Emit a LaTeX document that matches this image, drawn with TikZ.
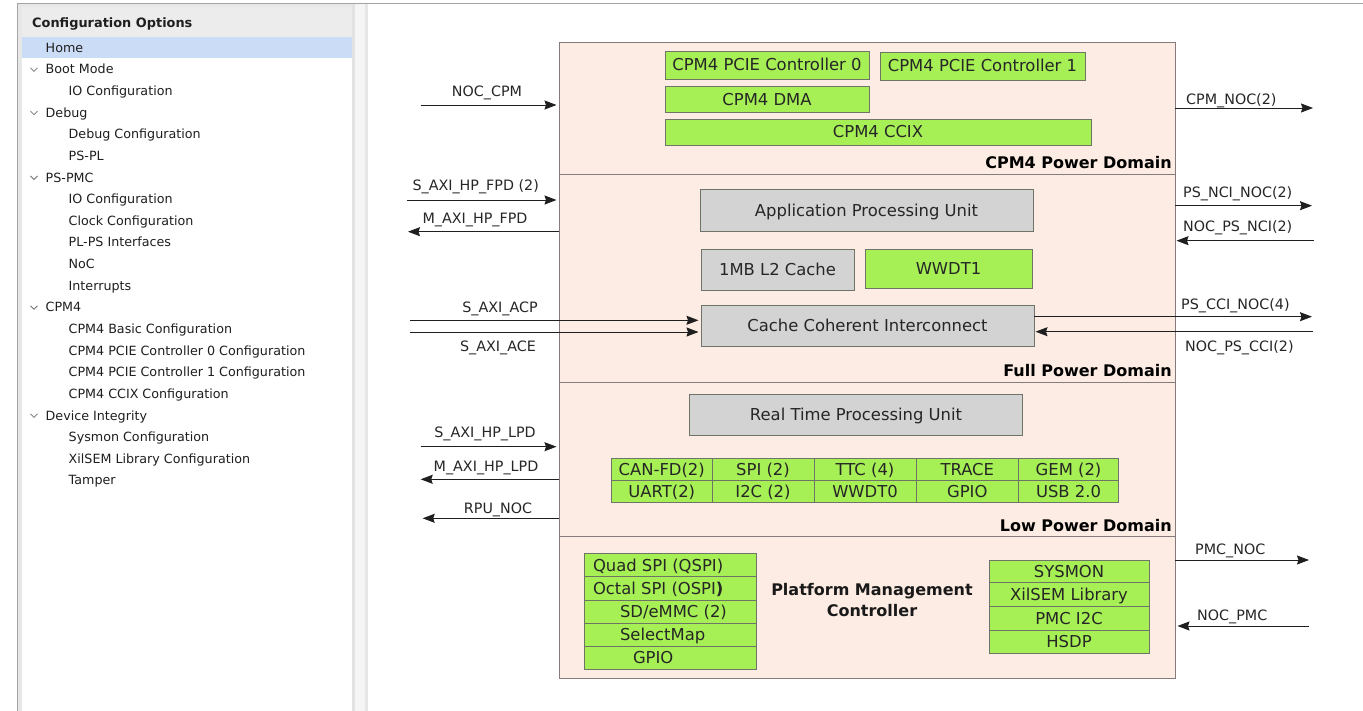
\documentclass[tikz,border=0pt]{standalone}
\usepackage{fontspec}
\setmainfont{DejaVu Sans}
\usetikzlibrary{arrows.meta}

\definecolor{domfill}{HTML}{FDECE3}
\definecolor{domline}{HTML}{857B7B}
\definecolor{ipgreen}{HTML}{A6EF55}
\definecolor{ipgray}{HTML}{D3D3D3}
\definecolor{ipline}{HTML}{6E7468}
\definecolor{ink}{HTML}{262626}
\definecolor{selblue}{HTML}{CBDCF7}
\definecolor{panelmargin}{HTML}{E7E7E7}
\definecolor{panelhead}{HTML}{ECECEC}
\definecolor{splitA}{HTML}{E2E2E2}
\definecolor{splitB}{HTML}{F5F5F5}
\definecolor{splitC}{HTML}{E6E6E6}
\definecolor{frameline}{HTML}{A4A4A4}

\begin{document}
\begin{tikzpicture}[x=1pt,y=-1pt,
  dom/.style={draw=domline, fill=domfill, line width=1pt, anchor=north west,
    inner sep=0pt, outer sep=0pt},
  ipbox/.style={draw=ipline, line width=0.9pt, anchor=north west, inner sep=0pt,
    outer sep=0pt, text=ink, font=\fontsize{16.4}{18}\selectfont,
    text height=12pt, text depth=0pt},
  gbox/.style={ipbox, fill=ipgreen},
  graybox/.style={ipbox, fill=ipgray},
  domlbl/.style={anchor=east, inner sep=0pt, font=\bfseries\fontsize{16}{18}\selectfont,
    text height=11.7pt, text depth=0pt},
  sig/.style={inner sep=0pt, text=ink, font=\fontsize{14.3}{16}\selectfont,
    text height=10.4pt, text depth=0pt},
  arr/.style={draw=black!88, line width=0.9pt,
    -{Stealth[length=12pt,width=9pt,inset=1.5pt]}},
  tree/.style={anchor=west, inner sep=0pt, text=black!88,
    font=\fontsize{12.7}{14}\selectfont, text height=9.2pt, text depth=0pt},
  chev/.style={draw=black!55, line width=0.8pt}
]
\useasboundingbox (0,0) rectangle (1363,711);
\fill[white] (0,0) rectangle (1363,711);

% ---------- options tree panel ----------
\fill[panelmargin] (18,4) rectangle (352,711);
\fill[panelhead] (22,7) rectangle (352,37);
\fill[white] (22,37) rectangle (352,711);
\fill[selblue] (22,37) rectangle (352,58.5);
\fill[splitA] (352,4) rectangle (355,711);
\fill[splitB] (355,4) rectangle (365,711);
\fill[splitC] (365,4) rectangle (368,711);
\draw[frameline, line width=1pt] (17.5,711) -- (17.5,3.5) -- (1363,3.5);

\node[anchor=west, inner sep=0pt, font=\bfseries\fontsize{12.9}{14}\selectfont,
  text=black!88, text height=9.4pt, text depth=0pt] (header) at (32,23) {Configuration Options};

\foreach \lv/\tx [count=\i from 0] in {
  0/Home, 1/Boot Mode, 2/IO Configuration, 1/Debug, 2/Debug Configuration,
  2/PS-PL, 1/PS-PMC, 2/IO Configuration, 2/Clock Configuration,
  2/PL-PS Interfaces, 2/NoC, 2/Interrupts, 1/CPM4, 2/CPM4 Basic Configuration,
  2/CPM4 PCIE Controller 0 Configuration, 2/CPM4 PCIE Controller 1 Configuration,
  2/CPM4 CCIX Configuration, 1/Device Integrity, 2/Sysmon Configuration,
  2/XilSEM Library Configuration, 2/Tamper}{
  \pgfmathsetmacro{\yy}{47.7+21.63*\i}
  \pgfmathsetmacro{\xx}{\lv==2 ? 68.5 : 45.5}
  \node[tree] (item\i) at (\xx,\yy) {\tx};
  \ifnum\lv=1
    \draw[chev] (30.5,\yy-1.5) -- (34,\yy+2) -- (37.5,\yy-1.5);
  \fi
}

% ---------- power domains ----------
\node[dom, minimum width=616pt, minimum height=132pt] (cpmdom)  at (559,43)  {};
\node[dom, minimum width=616pt, minimum height=207pt] (fulldom) at (559,175) {};
\node[dom, minimum width=616pt, minimum height=154pt] (lowdom)  at (559,382) {};
\node[dom, minimum width=616pt, minimum height=142pt] (pmcdom)  at (559,536) {};

\node[domlbl] (cpmlbl)  at (1172,162.5) {CPM4 Power Domain};
\node[domlbl] (fulllbl) at (1172,371)   {Full Power Domain};
\node[domlbl] (lowlbl)  at (1172,525.5) {Low Power Domain};

% CPM4 blocks
\node[gbox, minimum width=204pt, minimum height=28pt] (pcie0) at (665,51) {CPM4 PCIE Controller 0};
\node[gbox, minimum width=205pt, minimum height=28pt] (pcie1) at (880,52) {CPM4 PCIE Controller 1};
\node[gbox, minimum width=204pt, minimum height=26pt] (dma)   at (665,86.5) {CPM4 DMA};
\node[gbox, minimum width=426pt, minimum height=26pt] (ccix)  at (665,119) {CPM4 CCIX};

% full power domain blocks
\node[graybox, minimum width=333pt, minimum height=41.5pt] (apu) at (700,189.5) {Application Processing Unit};
\node[graybox, minimum width=153pt, minimum height=41pt] (l2) at (701,249) {1MB L2 Cache};
\node[gbox, minimum width=167pt, minimum height=39pt] (wwdt1) at (865,249) {WWDT1};
\node[graybox, minimum width=333pt, minimum height=41pt] (cci) at (701,305) {Cache Coherent Interconnect};

% low power domain blocks
\node[graybox, minimum width=333pt, minimum height=41.5pt] (rpu) at (689.5,394) {Real Time Processing Unit};

\node[gbox, minimum width=100.5pt, minimum height=22pt] (canfd) at (611.5,458) {CAN-FD(2)};
\node[gbox, minimum width=102pt,   minimum height=22pt] (spi)   at (712,458)   {SPI (2)};
\node[gbox, minimum width=102pt,   minimum height=22pt] (ttc)   at (814,458)   {TTC (4)};
\node[gbox, minimum width=102.5pt, minimum height=22pt] (trace) at (916,458)   {TRACE};
\node[gbox, minimum width=100pt,   minimum height=22pt] (gem)   at (1018.5,458) {GEM (2)};
\node[gbox, minimum width=100.5pt, minimum height=22pt] (uart)  at (611.5,480) {UART(2)};
\node[gbox, minimum width=102pt,   minimum height=22pt] (i2c)   at (712,480)   {I2C (2)};
\node[gbox, minimum width=102pt,   minimum height=22pt] (wwdt0) at (814,480)   {WWDT0};
\node[gbox, minimum width=102.5pt, minimum height=22pt] (gpio)  at (916,480)   {GPIO};
\node[gbox, minimum width=100pt,   minimum height=22pt] (usb)   at (1018.5,480) {USB 2.0};

% platform management controller blocks
\node[gbox, minimum height=22.6pt] (qspi) at (584,553.7) {\makebox[172pt][l]{\hspace{9pt}Quad SPI (QSPI)}};
\node[gbox, minimum height=24pt]   (ospi) at (584,576.3) {\makebox[172pt][l]{\hspace{9pt}Octal SPI (OSPI\textbf{)}}};
\node[gbox, minimum height=22.7pt] (sd)   at (584,600.3) {\makebox[172pt][l]{\hspace{36pt}SD/eMMC (2)}};
\node[gbox, minimum height=23.3pt] (smap) at (584,623)   {\makebox[172pt][l]{\hspace{36pt}SelectMap}};
\node[gbox, minimum height=22.7pt] (pgpio) at (584,646.3) {\makebox[172pt][l]{\hspace{49pt}GPIO}};

\node[align=center, inner sep=0pt, font=\bfseries\fontsize{16}{21.7}\selectfont,
  text=black!90] (pmclbl) at (872,600) {Platform Management\\Controller};

\node[gbox, minimum width=160pt, minimum height=22.3pt] (sysmon) at (989,560)   {SYSMON};
\node[gbox, minimum width=160pt, minimum height=24.4pt] (xilsem) at (989,582.3) {XilSEM Library};
\node[gbox, minimum width=160pt, minimum height=23.3pt] (pmci2c) at (989,606.7) {PMC I2C};
\node[gbox, minimum width=160pt, minimum height=23.7pt] (hsdp)   at (989,630)   {HSDP};

% ---------- interface signals, left side ----------
\coordinate (nocCpmSrc) at (420.7,105);
\draw[arr, shorten >=2.5pt] (nocCpmSrc) -- (nocCpmSrc -| cpmdom.west);
\node[sig] (nocCpmLbl) at (487,91.7) {NOC\_CPM};

\coordinate (hpFpdSrc) at (407,200);
\draw[arr, shorten >=2.5pt] (hpFpdSrc) -- (hpFpdSrc -| fulldom.west);
\node[sig] (hpFpdLbl) at (475.7,185.7) {S\_AXI\_HP\_FPD (2)};

\coordinate (mFpdDst) at (408,231.7);
\draw[arr] (mFpdDst -| fulldom.west) -- (mFpdDst);
\node[sig] (mFpdLbl) at (475,218.3) {M\_AXI\_HP\_FPD};

\coordinate (acpSrc) at (410,320.3);
\draw[arr, shorten >=2.5pt] (acpSrc) -- (acpSrc -| cci.west);
\node[sig] (acpLbl) at (500,307.7) {S\_AXI\_ACP};

\coordinate (aceSrc) at (410,332);
\draw[arr, shorten >=2.5pt] (aceSrc) -- (aceSrc -| cci.west);
\node[sig] (aceLbl) at (498,346.7) {S\_AXI\_ACE};

\coordinate (hpLpdSrc) at (420.7,446.7);
\draw[arr, shorten >=2.5pt] (hpLpdSrc) -- (hpLpdSrc -| lowdom.west);
\node[sig] (hpLpdLbl) at (485,432.7) {S\_AXI\_HP\_LPD};

\coordinate (mLpdDst) at (420.7,479.3);
\draw[arr] (mLpdDst -| lowdom.west) -- (mLpdDst);
\node[sig] (mLpdLbl) at (486,466) {M\_AXI\_HP\_LPD};

\coordinate (rpuNocDst) at (422.7,518.3);
\draw[arr] (rpuNocDst -| lowdom.west) -- (rpuNocDst);
\node[sig] (rpuNocLbl) at (498,508.3) {RPU\_NOC};

% ---------- interface signals, right side ----------
\coordinate (cpmNocDst) at (1313,108);
\draw[arr] (cpmNocDst -| cpmdom.east) -- (cpmNocDst);
\node[sig, anchor=west] (cpmNocLbl) at (1186,99) {CPM\_NOC(2)};

\coordinate (nciOutDst) at (1312,205.7);
\draw[arr] (nciOutDst -| fulldom.east) -- (nciOutDst);
\node[sig, anchor=west] (nciOutLbl) at (1183,192.7) {PS\_NCI\_NOC(2)};

\coordinate (nciInSrc) at (1314,240.7);
\draw[arr, shorten >=1.5pt] (nciInSrc) -- (nciInSrc -| fulldom.east);
\node[sig, anchor=west] (nciInLbl) at (1183,226.7) {NOC\_PS\_NCI(2)};

\coordinate (cciOutDst) at (1312,316.7);
\draw[arr] (cciOutDst -| cci.east) -- (cciOutDst);
\node[sig, anchor=west] (cciOutLbl) at (1181,304.3) {PS\_CCI\_NOC(4)};

\coordinate (cciInSrc) at (1313,331.7);
\draw[arr, shorten >=1.5pt] (cciInSrc) -- (cciInSrc -| cci.east);
\node[sig, anchor=west] (cciInLbl) at (1185,346.7) {NOC\_PS\_CCI(2)};

\coordinate (pmcNocDst) at (1309,560);
\draw[arr] (pmcNocDst -| pmcdom.east) -- (pmcNocDst);
\node[sig, anchor=west] (pmcNocLbl) at (1195,549.3) {PMC\_NOC};

\coordinate (nocPmcSrc) at (1309,626);
\draw[arr, shorten >=2.5pt] (nocPmcSrc) -- (nocPmcSrc -| pmcdom.east);
\node[sig, anchor=west] (nocPmcLbl) at (1197,615) {NOC\_PMC};
\end{tikzpicture}
\end{document}
